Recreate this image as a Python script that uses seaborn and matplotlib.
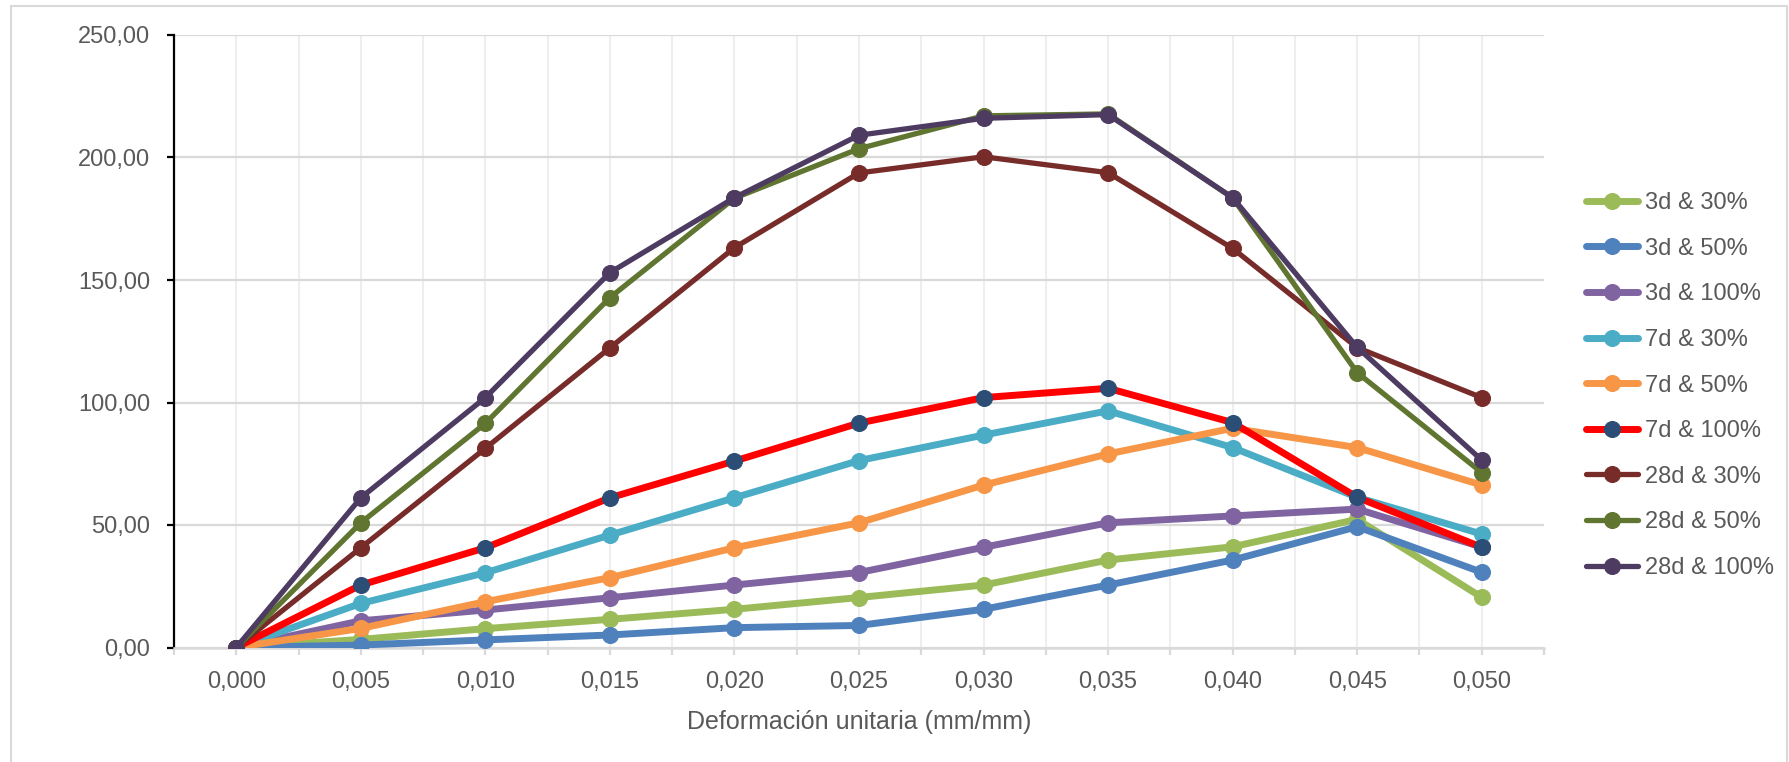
import matplotlib
matplotlib.use("Agg")
import matplotlib.pyplot as plt
import matplotlib.ticker as mticker
from matplotlib.patches import Rectangle
import numpy as np
import pandas as pd
import seaborn as sns

# Data (stress vs. unit strain)
strain = [0.000, 0.005, 0.010, 0.015, 0.020, 0.025, 0.030, 0.035, 0.040, 0.045, 0.050]

s_3d_30 = [0, 3.3, 7.7, 11.5, 15.6, 20.4, 25.5, 35.7, 41.1, 52.3, 20.5]
s_3d_50 = [0, 1.0, 3.1, 5.1, 8.1, 9.0, 15.6, 25.5, 35.7, 49.3, 30.7]
s_3d_100 = [0, 10.9, 15.3, 20.3, 25.5, 30.6, 40.9, 50.9, 53.7, 56.5, 41.0]
s_7d_30 = [0, 18.0, 30.5, 45.9, 61.1, 76.3, 86.7, 96.6, 81.6, 61.3, 46.3]
s_7d_50 = [0, 7.8, 18.7, 28.5, 40.7, 50.9, 66.3, 79.0, 89.5, 81.6, 66.3]
s_7d_100 = [0, 25.5, 40.7, 61.1, 76.1, 91.6, 102.0, 105.8, 91.8, 61.3, 40.9]
s_28d_30 = [0, 40.7, 81.3, 122.3, 163.2, 193.7, 200.3, 193.8, 162.9, 122.4, 102.0]
s_28d_50 = [0, 50.9, 91.5, 142.8, 183.4, 203.6, 217.0, 217.8, 183.5, 112.2, 71.4]
s_28d_100 = [0, 61.1, 102.0, 153.0, 183.6, 209.1, 216.0, 217.5, 183.6, 122.5, 76.5]

labels = ["3d & 30%", "3d & 50%", "3d & 100%", "7d & 30%", "7d & 50%",
          "7d & 100%", "28d & 30%", "28d & 50%", "28d & 100%"]
values = [s_3d_30, s_3d_50, s_3d_100, s_7d_30, s_7d_50,
          s_7d_100, s_28d_30, s_28d_50, s_28d_100]

# line colour, marker colour, line width (pt)
styles = {
    "3d & 30%": ("#9BBB59", "#9BBB59", 5.0),
    "3d & 50%": ("#4F81BD", "#4F81BD", 5.0),
    "3d & 100%": ("#8064A2", "#8064A2", 5.0),
    "7d & 30%": ("#4BACC6", "#4BACC6", 5.0),
    "7d & 50%": ("#F79646", "#F79646", 5.0),
    "7d & 100%": ("#FF0000", "#2C4D75", 5.0),
    "28d & 30%": ("#772C2A", "#772C2A", 3.8),
    "28d & 50%": ("#5F7530", "#5F7530", 3.8),
    "28d & 100%": ("#4D3B62", "#4D3B62", 3.8),
}

df = pd.concat([pd.DataFrame({"strain": strain, "stress": v, "serie": lab})
                for lab, v in zip(labels, values)], ignore_index=True)

sns.set_style("white")
plt.rcParams["font.family"] = ["Liberation Sans", "DejaVu Sans"]
txt = "#595959"

fig = plt.figure(figsize=(17.89, 7.62), dpi=100)
ax = fig.add_axes([174 / 1789, 1 - 647.5 / 762, (1544 - 174) / 1789, (647.5 - 35) / 762])

for lab in labels:
    lc, mc, lw = styles[lab]
    sns.lineplot(data=df[df["serie"] == lab], x="strain", y="stress", ax=ax,
                 color=lc, lw=lw, marker="o", markersize=11.5,
                 markerfacecolor=mc, markeredgecolor=mc, label=lab, zorder=3)

# axes limits / ticks
ax.set_xlim(-0.0025, 0.0525)
ax.set_ylim(0, 250)
ax.set_xticks(strain)
ax.set_xticklabels([f"{v:.3f}".replace(".", ",") for v in strain])
ax.xaxis.set_minor_locator(mticker.FixedLocator(np.arange(-0.0025, 0.0526, 0.005)))
ax.yaxis.set_major_locator(mticker.MultipleLocator(50))
ax.yaxis.set_major_formatter(mticker.FuncFormatter(lambda v, p: f"{v:.2f}".replace(".", ",")))

# grid
for y in range(0, 251, 50):
    ax.axhline(y, color="#d9d9d9", lw=1.6, zorder=1)
for x in np.arange(0, 0.0501, 0.0025):
    ax.axvline(x, color="#eeeeee", lw=1.5, zorder=0.5)

for s in ["top", "right"]:
    ax.spines[s].set_visible(False)
ax.spines["left"].set_color("black")
ax.spines["left"].set_linewidth(1.6)
ax.spines["bottom"].set_color("#d9d9d9")
ax.spines["bottom"].set_linewidth(1.8)

ax.tick_params(axis="y", which="major", direction="out", length=5, width=1.6,
               color="black", labelsize=17, labelcolor=txt, pad=12, left=True)
ax.tick_params(axis="x", which="both", direction="out", length=5, width=1.6,
               color="#d9d9d9", labelsize=17, labelcolor=txt, pad=12, bottom=True)

ax.set_xlabel("Deformación unitaria (mm/mm)", fontsize=18, color=txt, labelpad=12)
ax.set_ylabel(None)

# legend
h, l = ax.get_legend_handles_labels()
ax.get_legend().remove()
fig.legend(h, l, loc="center left", bbox_to_anchor=(1586 / 1789, 1 - 385.5 / 762),
           frameon=False, fontsize=17, labelcolor=txt, handlelength=2.2,
           handletextpad=0.3, labelspacing=1.0, borderpad=0, borderaxespad=0)

# outer chart border
fig.patches.append(Rectangle((11 / 1789, -0.02), (1787 - 11) / 1789, 1.02 - 6 / 762,
                             transform=fig.transFigure, fill=False,
                             edgecolor="#d9d9d9", lw=1.5))

fig.savefig("out.png", dpi=100)
